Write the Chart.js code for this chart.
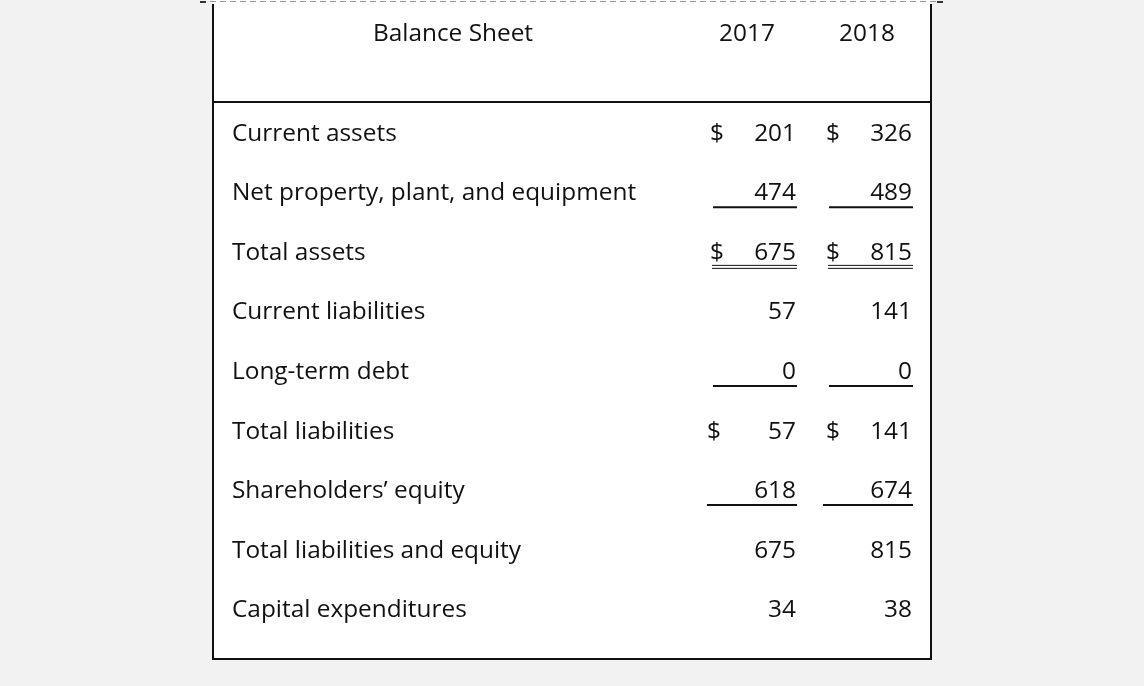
<!DOCTYPE html>
<html lang="en">
<head>
    <meta charset="UTF-8">
    <title>Balance Sheet</title>
    <script src="https://cdn.jsdelivr.net/npm/chart.js"></script>
    <style>
        html, body {
            margin: 0;
            padding: 0;
            background-color: #f2f2f2;
        }
        #wrap {
            width: 1144px;
            height: 686px;
        }
    </style>
</head>
<body>
    <div id="wrap">
        <canvas id="sheetChart" width="1144" height="686"></canvas>
    </div>

    <script>
        // table content
        const title = 'Balance Sheet';
        const years = ['2017', '2018'];
        const rows = [
            'Current assets',
            'Net property, plant, and equipment',
            'Total assets',
            'Current liabilities',
            'Long-term debt',
            'Total liabilities',
            'Shareholders\u2019 equity',
            'Total liabilities and equity',
            'Capital expenditures'
        ];
        const values2017 = [201, 474, 675, 57, 0, 57, 618, 675, 34];
        const values2018 = [326, 489, 815, 141, 0, 141, 674, 815, 38];
        const dollarRows = [true, false, true, false, false, true, false, false, false];
        const ruleRows = ['', 'single', 'double', '', 'single', '', 'single', '', ''];

        const FONT = '24.4px "Open Sans", "Noto Sans", sans-serif';
        const INK = '#111';
        const BOX = { left: 213, right: 931, top: 0, bottom: 659 };
        const YEAR_SHIFT = [-49, -45];

        function toPoints(values, col) {
            return values.map((v, i) => ({ x: col, y: rows[i], v: v }));
        }

        const tablePlugin = {
            id: 'tablePlugin',
            beforeDraw(chart) {
                const ctx = chart.ctx;
                ctx.save();
                ctx.fillStyle = '#f2f2f2';
                ctx.fillRect(0, 0, chart.width, chart.height);
                ctx.fillStyle = '#ffffff';
                ctx.fillRect(BOX.left, BOX.top, BOX.right - BOX.left, BOX.bottom - BOX.top);

                // frame
                ctx.strokeStyle = '#111';
                ctx.lineWidth = 2;
                ctx.beginPath();
                ctx.moveTo(BOX.left, 4);
                ctx.lineTo(BOX.left, BOX.bottom);
                ctx.lineTo(BOX.right, BOX.bottom);
                ctx.lineTo(BOX.right, 4);
                ctx.stroke();

                // dashed top edge
                ctx.strokeStyle = '#999';
                ctx.lineWidth = 1;
                ctx.setLineDash([6, 4]);
                ctx.beginPath();
                ctx.moveTo(200, 1.5);
                ctx.lineTo(942, 1.5);
                ctx.stroke();
                ctx.setLineDash([]);
                ctx.strokeStyle = '#333';
                ctx.lineWidth = 2;
                ctx.beginPath();
                ctx.moveTo(200, 2); ctx.lineTo(206, 2);
                ctx.moveTo(937, 2); ctx.lineTo(943, 2);
                ctx.stroke();

                // header rule
                const top = chart.chartArea.top;
                ctx.strokeStyle = '#111';
                ctx.lineWidth = 2;
                ctx.beginPath();
                ctx.moveTo(BOX.left, top);
                ctx.lineTo(BOX.right, top);
                ctx.stroke();
                ctx.restore();
            },
            afterDatasetsDraw(chart) {
                const ctx = chart.ctx;
                const xs = chart.scales.x;
                const ys = chart.scales.y;
                ctx.save();
                ctx.font = FONT;
                ctx.fillStyle = INK;
                ctx.textBaseline = 'middle';

                // header
                ctx.textAlign = 'center';
                ctx.fillText(title, 453, 34);
                years.forEach((yr, c) => {
                    ctx.fillText(yr, xs.getPixelForValue(c) + YEAR_SHIFT[c], 34);
                });

                // row labels
                ctx.textAlign = 'left';
                rows.forEach((r, i) => {
                    ctx.fillText(r, 232, ys.getPixelForValue(i) + 2);
                });

                // cells
                chart.data.datasets.forEach((ds, c) => {
                    const meta = chart.getDatasetMeta(c);
                    meta.data.forEach((pt, i) => {
                        const x = pt.x;
                        const y = pt.y;
                        ctx.textAlign = 'right';
                        ctx.fillText(String(ds.data[i].v), x, y + 2);
                        if (dollarRows[i]) {
                            ctx.textAlign = 'left';
                            ctx.fillText('$', x - (i === 5 && c === 0 ? 89 : 86), y + 2);
                        }
                        ctx.strokeStyle = INK;
                        ctx.lineWidth = 2;
                        if (ruleRows[i] === 'single') {
                            const w = i === 6 ? 90 : 84;
                            ctx.beginPath();
                            ctx.moveTo(x + 1 - w, y + 16);
                            ctx.lineTo(x + 1, y + 16);
                            ctx.stroke();
                        } else if (ruleRows[i] === 'double') {
                            ctx.lineWidth = 1;
                            ctx.beginPath();
                            ctx.moveTo(x - 84, y + 14.5);
                            ctx.lineTo(x + 1, y + 14.5);
                            ctx.moveTo(x - 84, y + 17.5);
                            ctx.lineTo(x + 1, y + 17.5);
                            ctx.stroke();
                        }
                    });
                });
                ctx.restore();
            }
        };

        new Chart(document.getElementById('sheetChart'), {
            type: 'scatter',
            data: {
                datasets: [
                    { label: years[0], data: toPoints(values2017, 0), pointRadius: 0 },
                    { label: years[1], data: toPoints(values2018, 1), pointRadius: 0 }
                ]
            },
            options: {
                responsive: false,
                animation: false,
                events: [],
                layout: {
                    padding: { left: BOX.left, right: 1144 - BOX.right, top: 102, bottom: 48 }
                },
                plugins: {
                    legend: { display: false },
                    tooltip: { enabled: false }
                },
                scales: {
                    x: {
                        type: 'linear',
                        display: false,
                        min: -5.026,
                        max: 1.164
                    },
                    y: {
                        type: 'category',
                        labels: rows,
                        offset: true,
                        display: false
                    }
                }
            },
            plugins: [tablePlugin]
        });
    </script>
</body>
</html>
